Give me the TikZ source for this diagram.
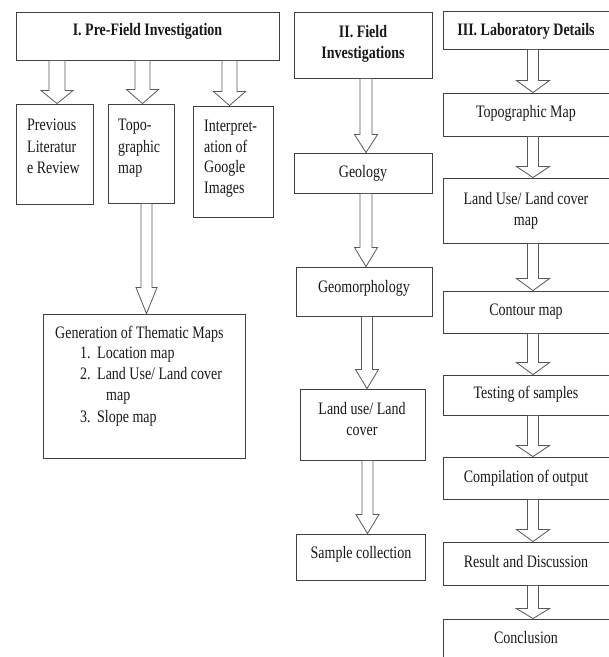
\documentclass[tikz,border=0pt]{standalone}
\usepackage{fontspec}
\setmainfont{Liberation Serif}[FakeStretch=0.8]
\usetikzlibrary{calc}
\tikzset{
  box/.style={draw=black!75, line width=0.9pt, fill=white, inner sep=0pt},
  tx/.style={inner sep=0pt, font=\fontsize{17.5}{21}\selectfont, anchor=base, text=black!90},
  txl/.style={tx, anchor=base west},
  ttl/.style={tx, font=\fontsize{17.5}{21}\selectfont\bfseries},
  barrowstyle/.style={draw=black!65, line width=0.8pt, fill=white, line join=miter},
}
% #1 name, #2 x1, #3 y1, #4 x2, #5 y2
\newcommand{\bx}[5]{\node[box, minimum width=#4pt-#2pt, minimum height=#5pt-#3pt] (#1) at ({(#2+#4)/2},{(#3+#5)/2}) {};}
% #1 src, #2 dst, #3 signed x offset, #4 shaft half, #5 head half, #6 head length
\newcommand{\barrow}[6]{%
  \draw[barrowstyle] let \p1=(#1.south), \p2=(#2.north) in
    (\x2#3pt-#4pt,\y1) -- (\x2#3pt+#4pt,\y1) -- (\x2#3pt+#4pt,\y2+#6pt)
    -- (\x2#3pt+#5pt,\y2+#6pt) -- (\x2#3pt,\y2) -- (\x2#3pt-#5pt,\y2+#6pt)
    -- (\x2#3pt-#4pt,\y2+#6pt) -- cycle;}
\begin{document}
\begin{tikzpicture}[x=1pt,y=-1pt]
\clip (0,0) rectangle (609,657);
\fill[white] (0,0) rectangle (609,657);
% column I
\bx{pf}{16}{12}{279}{60}
\bx{prev}{16}{104}{93}{204}
\bx{topo}{108}{104}{174}{203}
\bx{interp}{193}{106}{273}{217}
\bx{gen}{43}{314}{245}{458}
% column II
\bx{fi}{294}{12}{432}{78}
\bx{geo}{294}{153}{432}{193}
\bx{gm}{296}{267}{432}{316}
\bx{lu}{300}{389}{425}{460}
\bx{sc}{296}{534}{425}{580}
% column III
\bx{lab}{443}{11}{611}{49}
\bx{la}{443}{93}{611}{136}
\bx{lb}{443}{178}{611}{243}
\bx{lc}{443}{291}{611}{333}
\bx{ld}{443}{375}{611}{415}
\bx{le}{443}{457}{611}{499}
\bx{lf}{443}{542}{611}{585}
\bx{lg}{443}{619}{611}{680}
% arrows
\barrow{pf}{prev}{+2.5}{8}{16}{13}
\barrow{pf}{topo}{+1.5}{7.5}{16}{14}
\barrow{pf}{interp}{-3.5}{7.5}{16}{14}
\barrow{topo}{gen}{+2.5}{5.5}{10.5}{26}
\barrow{fi}{geo}{+3}{6}{11.5}{18}
\barrow{geo}{gm}{+2}{6}{11.5}{19}
\barrow{gm}{lu}{+4.5}{5.5}{11.5}{19}
\barrow{lu}{sc}{+7}{5.5}{11.5}{19}
\barrow{lab}{la}{+6}{5.5}{16.5}{12}
\barrow{la}{lb}{+6}{5.5}{16.5}{11}
\barrow{lb}{lc}{+6}{5.5}{16.5}{12}
\barrow{lc}{ld}{+6}{5.5}{16.5}{12}
\barrow{ld}{le}{+6}{5.5}{16.5}{11}
\barrow{le}{lf}{+6}{5.5}{16.5}{12}
\barrow{lf}{lg}{+6}{5.5}{16.5}{10}
% texts column I
\node[ttl] (tpf) at (147.5,35) {I. Pre-Field Investigation};
\node[txl] (tp1) at (27,130) {Previous};
\node[txl] (tp2) at (27,152) {Literatur};
\node[txl] (tp3) at (27,173) {e Review};
\node[txl] (tt1) at (118,130) {Topo-};
\node[txl] (tt2) at (118,152) {graphic};
\node[txl] (tt3) at (118,173) {map};
\node[txl] (ti1) at (204,131) {Interpret-};
\node[txl] (ti2) at (204,152) {ation of};
\node[txl] (ti3) at (204,172) {Google};
\node[txl] (ti4) at (204,193) {Images};
\node[txl] (tg0) at (55,338) {Generation of Thematic Maps};
\node[txl] (tn1) at (80,358) {1.};
\node[txl] (tg1) at (97,358) {Location map};
\node[txl] (tn2) at (80,379) {2.};
\node[txl] (tg2) at (97,379) {Land Use/ Land cover};
\node[txl] (tg3) at (106,400) {map};
\node[txl] (tn3) at (80,422) {3.};
\node[txl] (tg4) at (97,422) {Slope map};
% texts column II
\node[ttl] (tfi1) at (363,37) {II. Field};
\node[ttl] (tfi2) at (363,58) {Investigations};
\node[tx] (tgeo) at (363,177) {Geology};
\node[tx] (tgm) at (364,292) {Geomorphology};
\node[tx] (tlu1) at (362,414) {Land use/ Land};
\node[tx] (tlu2) at (362,435) {cover};
\node[tx] (tsc) at (361,558) {Sample collection};
% texts column III
\node[ttl] (tlab) at (526,35) {III. Laboratory Details};
\node[tx] (tla) at (526,117) {Topographic Map};
\node[tx] (tlb1) at (526,204) {Land Use/ Land cover};
\node[tx] (tlb2) at (526,225) {map};
\node[tx] (tlc) at (526,315) {Contour map};
\node[tx] (tld) at (526,398) {Testing of samples};
\node[tx] (tle) at (526,482) {Compilation of output};
\node[tx] (tlf) at (526,567) {Result and Discussion};
\node[tx] (tlg) at (526,643) {Conclusion};
\end{tikzpicture}
\end{document}
